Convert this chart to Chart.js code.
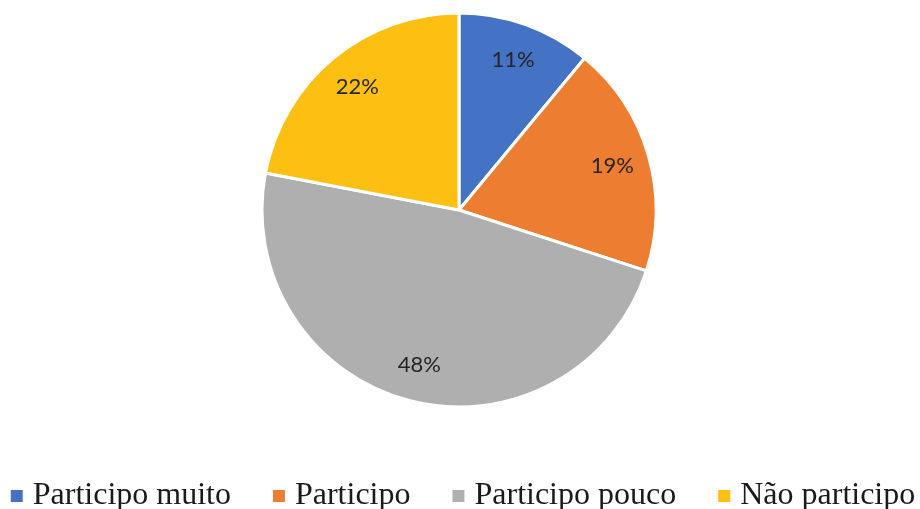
<!DOCTYPE html>
<html><head><meta charset="utf-8">
<script src="https://cdn.jsdelivr.net/npm/chart.js@4"></script>
<style>html,body{margin:0;padding:0;background:#fff;overflow:hidden}#wrap{width:920px;height:509px}</style>
</head><body><div id="wrap"><canvas id="c" width="920" height="509"></canvas></div>
<script>
const categories = ["Participo muito", "Participo", "Participo pouco", "Não participo"];
const values = [11, 19, 48, 22];
const labelsText = ["11%", "19%", "48%", "22%"];
const colors = ["#4472C4", "#ED7D31", "#AFAFAF", "#FDBF12"];

const sliceLabels = {
  id: 'sliceLabels',
  afterDatasetsDraw(chart) {
    const ctx = chart.ctx;
    const meta = chart.getDatasetMeta(0);
    ctx.save();
    ctx.font = '22px Lato, "Liberation Sans", sans-serif';
    ctx.fillStyle = '#262626';
    ctx.textAlign = 'center';
    ctx.textBaseline = 'middle';
    meta.data.forEach((arc, i) => {
      const p = arc.getProps(['x','y','startAngle','endAngle','outerRadius'], true);
      const mid = (p.startAngle + p.endAngle) / 2;
      const r = p.outerRadius * 0.81;
      ctx.fillText(labelsText[i], p.x + Math.cos(mid) * r, p.y + Math.sin(mid) * r);
    });
    ctx.restore();
  }
};

const bottomLegend = {
  id: 'bottomLegend',
  afterDraw(chart) {
    const ctx = chart.ctx;
    const box = 12, gapBoxText = 10, gapItems = 42;
    ctx.save();
    ctx.font = '32px "Liberation Serif", "Times New Roman", serif';
    const widths = categories.map(t => ctx.measureText(t).width);
    const total = widths.reduce((a, w) => a + box + gapBoxText + w, 0) + gapItems * (categories.length - 1);
    let x = (chart.width - total) / 2 + 3;
    const baseline = 504;
    ctx.textBaseline = 'alphabetic';
    ctx.textAlign = 'left';
    categories.forEach((t, i) => {
      ctx.fillStyle = colors[i];
      ctx.fillRect(x, 490, box, box);
      ctx.fillStyle = '#1a1a1a';
      ctx.fillText(t, x + box + gapBoxText, baseline);
      x += box + gapBoxText + widths[i] + gapItems;
    });
    ctx.restore();
  }
};

new Chart(document.getElementById('c'), {
  type: 'pie',
  data: {
    labels: categories,
    datasets: [{
      data: values,
      backgroundColor: colors,
      borderColor: '#ffffff',
      borderWidth: 3
    }]
  },
  options: {
    responsive: false,
    animation: false,
    radius: 197,
    layout: { padding: { top: 0, bottom: 89, left: 0, right: 2 } },
    plugins: {
      tooltip: { enabled: false },
      legend: { display: false }
    }
  },
  plugins: [sliceLabels, bottomLegend]
});
</script></body></html>
